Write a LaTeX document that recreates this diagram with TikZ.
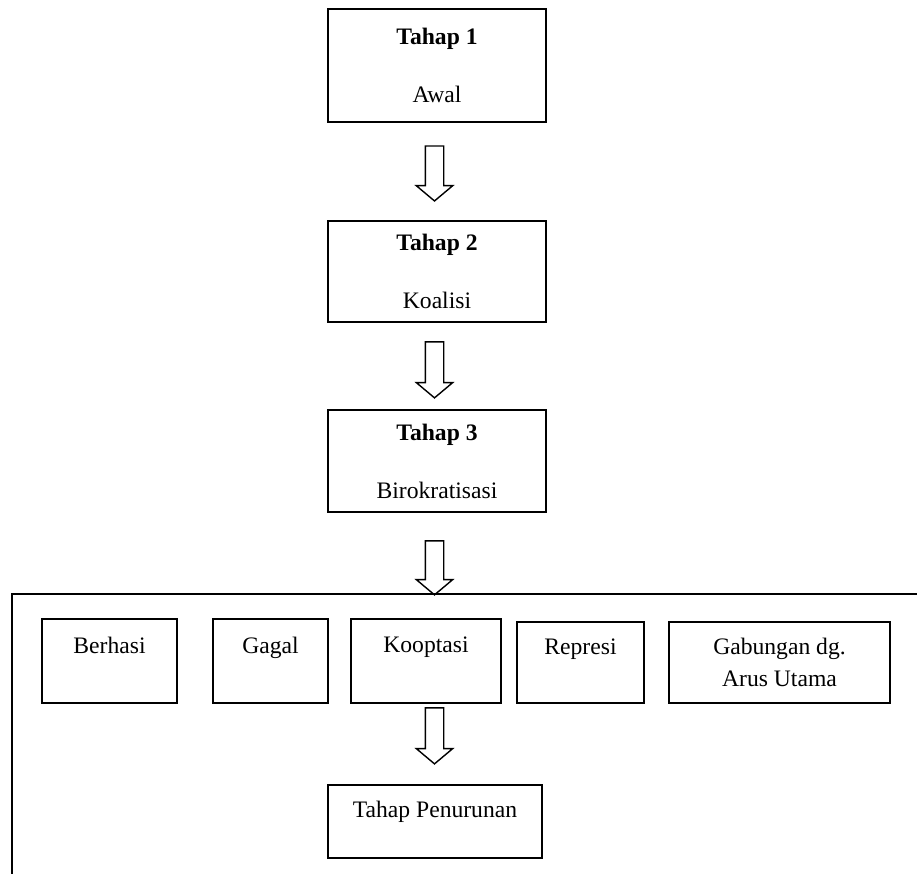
\documentclass[tikz,border=0pt]{standalone}
\usepackage{fontspec}
\setmainfont{Liberation Serif}
\usetikzlibrary{shapes.arrows}

\begin{document}
\begin{tikzpicture}[
    stage/.style={draw, rectangle, line width=1.3pt, minimum width=5.45cm, align=center, font=\fontsize{16.8}{41.3}\selectfont},
    option/.style={draw, rectangle, line width=1.3pt, minimum height=2.1cm, align=center, font=\fontsize{16.8}{22.8}\selectfont},
    hollow/.style={draw, single arrow, shape border rotate=270, line width=1pt, minimum width=0.875cm, minimum height=1.375cm, single arrow head extend=0.225cm, single arrow tip angle=100, inner sep=0.2125cm}
]
    \useasboundingbox (0,0) rectangle (22.925,-21.85);
    \node (tahap1) at (10.925,-1.6375) [stage, minimum height=2.825cm] {\textbf{Tahap 1}\\Awal};
    \node (tahap2) at (10.925,-6.7875) [stage, minimum height=2.525cm] {\textbf{Tahap 2}\\Koalisi};
    \node (tahap3) at (10.925,-11.525) [stage, minimum height=2.55cm] {\textbf{Tahap 3}\\Birokratisasi};
    \node (arrow1) at (10.8625,-4.24) [hollow] {};
    \node (arrow2) at (10.8625,-9.15) [hollow, minimum height=1.4cm] {};
    \node (arrow3) at (10.8625,-14.1) [hollow, minimum height=1.35cm] {};
    \draw[line width=1.3pt] (22.925,-14.85) -- (0.3,-14.85) -- (0.3,-21.85);
    \node (berhasi) at (2.7375,-16.525) [option, minimum width=3.375cm] {Berhasi\\\phantom{B}};
    \node (gagal) at (6.7625,-16.525) [option, minimum width=2.875cm] {Gagal\\\phantom{G}};
    \node (kooptasi) at (10.65,-16.525) [option, minimum width=3.75cm] {Kooptasi\\\phantom{K}};
    \node (represi) at (14.5125,-16.5625) [option, minimum width=3.175cm, minimum height=2.025cm] {Represi\\\phantom{R}};
    \node (gabungan) at (19.4875,-16.5625) [option, minimum width=5.525cm, minimum height=2.025cm] {Gabungan dg.\\Arus Utama};
    \node (arrow4) at (10.8625,-18.3) [hollow, minimum height=1.4cm] {};
    \node (penurunan) at (10.875,-20.5375) [option, minimum width=5.35cm, minimum height=1.825cm, font=\fontsize{16.8}{16.8}\selectfont] {Tahap Penurunan\\\phantom{T}};
\end{tikzpicture}
\end{document}
